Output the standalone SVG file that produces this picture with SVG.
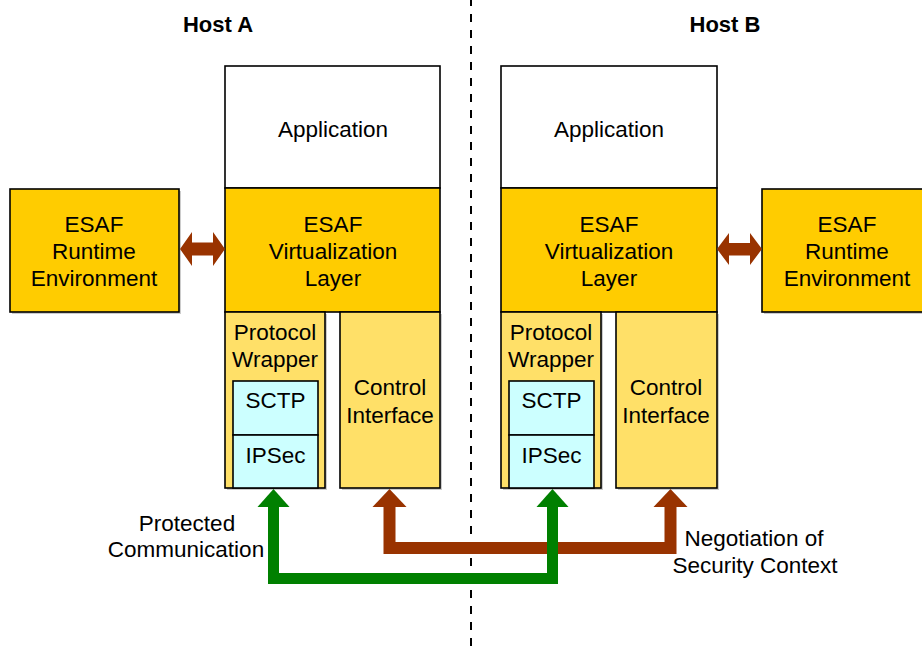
<svg xmlns="http://www.w3.org/2000/svg" width="922" height="650" viewBox="0 0 922 650">
<style>
  text { font-family: "Liberation Sans", Arial, sans-serif; font-size: 22.5px; fill: #000; text-anchor: middle; }
  .title { font-weight: bold; font-size: 22px; }
  .box { stroke: #000; stroke-width: 1.6; }
  .white { fill: #FFFFFF; }
  .orange { fill: #FFCC00; }
  .yellow { fill: #FFE068; }
  .cyan { fill: #CCFFFF; }
  .shadow { fill: #9a9a9a; opacity: 0.5; }
</style>
<rect width="922" height="650" fill="#FFFFFF"/>

<line x1="471" y1="0" x2="471" y2="650" stroke="#000" stroke-width="2" stroke-dasharray="8 8" stroke-dashoffset="2"/>

<text class="title" x="218" y="32">Host A</text>
<text class="title" x="725" y="32">Host B</text>

<g id="runtimeA">
  <rect class="shadow" x="12" y="191" width="169" height="123"/>
  <rect class="box orange" x="10" y="189" width="169" height="123"/>
  <text x="94" y="232">ESAF</text>
  <text x="94" y="259">Runtime</text>
  <text x="94" y="286">Environment</text>
</g>

<g id="appA">
  <rect class="box white" x="225" y="66" width="215" height="122"/>
  <text x="333" y="137">Application</text>
</g>
<g id="layerA">
  <rect class="box orange" x="225" y="188" width="215" height="124"/>
  <text x="333" y="232">ESAF</text>
  <text x="333" y="259">Virtualization</text>
  <text x="333" y="286">Layer</text>
</g>
<g id="wrapperA">
  <rect class="shadow" x="227" y="314" width="100" height="176"/>
  <rect class="box yellow" x="225" y="312" width="100" height="176"/>
  <text x="275" y="340">Protocol</text>
  <text x="275" y="367">Wrapper</text>
</g>
<g id="sctpA">
  <rect class="box cyan" x="233" y="381" width="85" height="54"/>
  <text x="275.5" y="408">SCTP</text>
</g>
<g id="ipsecA">
  <rect class="box cyan" x="233" y="435" width="85" height="53"/>
  <text x="275.5" y="463">IPSec</text>
</g>
<g id="controlA">
  <rect class="shadow" x="342" y="314" width="100" height="176"/>
  <rect class="box yellow" x="340" y="312" width="100" height="176"/>
  <text x="390" y="395">Control</text>
  <text x="390" y="423">Interface</text>
</g>

<g id="appB">
  <rect class="box white" x="501" y="66" width="216" height="122"/>
  <text x="609" y="137">Application</text>
</g>
<g id="layerB">
  <rect class="box orange" x="501" y="188" width="216" height="124"/>
  <text x="609" y="232">ESAF</text>
  <text x="609" y="259">Virtualization</text>
  <text x="609" y="286">Layer</text>
</g>
<g id="wrapperB">
  <rect class="shadow" x="503" y="314" width="100" height="176"/>
  <rect class="box yellow" x="501" y="312" width="100" height="176"/>
  <text x="551" y="340">Protocol</text>
  <text x="551" y="367">Wrapper</text>
</g>
<g id="sctpB">
  <rect class="box cyan" x="509" y="381" width="85" height="54"/>
  <text x="551.5" y="408">SCTP</text>
</g>
<g id="ipsecB">
  <rect class="box cyan" x="509" y="435" width="85" height="53"/>
  <text x="551.5" y="463">IPSec</text>
</g>
<g id="controlB">
  <rect class="shadow" x="618" y="314" width="101" height="176"/>
  <rect class="box yellow" x="616" y="312" width="101" height="176"/>
  <text x="666" y="395">Control</text>
  <text x="666" y="423">Interface</text>
</g>

<g id="runtimeB">
  <rect class="shadow" x="764" y="191" width="170" height="123"/>
  <rect class="box orange" x="762" y="189" width="170" height="123"/>
  <text x="847" y="232">ESAF</text>
  <text x="847" y="259">Runtime</text>
  <text x="847" y="286">Environment</text>
</g>

<g id="connectors">
  <polygon fill="#993300" points="180,249 192,232 192,242.5 213,242.5 213,232 225,249 213,266 213,255.5 192,255.5 192,266"/>
  <polygon fill="#993300" points="717,249 729,233 729,243 750,243 750,233 762,249 750,265 750,255.5 729,255.5 729,265"/>

  <path d="M389.5,505 V548 H670.5 V505" fill="none" stroke="#993300" stroke-width="12" stroke-linejoin="miter"/>
  <polygon fill="#993300" points="389.5,489 406.5,507 372.5,507"/>
  <polygon fill="#993300" points="670.5,489 687.5,507 653.5,507"/>

  <path d="M273.5,505 V578.5 H552.5 V505" fill="none" stroke="#008000" stroke-width="11" stroke-linejoin="miter"/>
  <polygon fill="#008000" points="273.5,489 289.5,507 257.5,507"/>
  <polygon fill="#008000" points="552.5,489 568.5,507 536.5,507"/>
</g>

<text x="187" y="531">Protected</text>
<text x="186" y="557">Communication</text>
<text x="754" y="546">Negotiation of</text>
<text x="755" y="573">Security Context</text>
</svg>
